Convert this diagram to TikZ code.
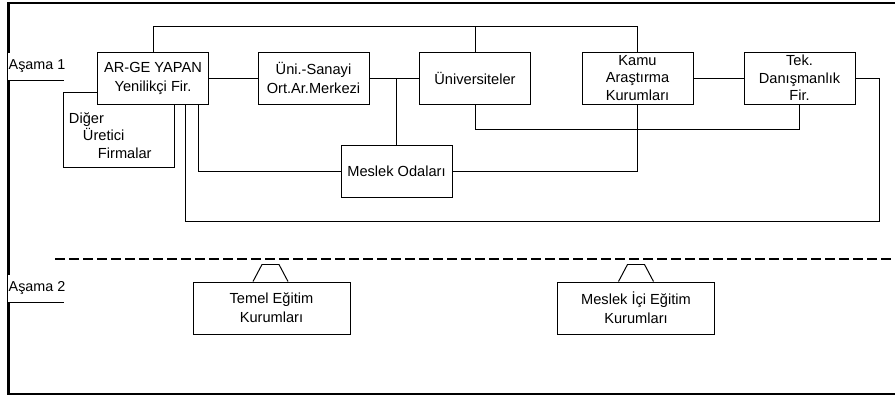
\documentclass[tikz,border=0pt]{standalone}
\usepackage{fontspec}
\setmainfont{Liberation Sans}
\tikzset{box/.style = {draw, fill=white, align=center, inner sep=0, minimum width=27.75mm, minimum height=13mm, font=\fontsize{10.4}{13.5}\selectfont}}
\tikzset{tight/.style = {font=\fontsize{10.4}{12.4}\selectfont}}
\tikzset{tabbox/.style = {box, minimum width=39.25mm}}
\tikzset{stage/.style = {fill=white, inner sep=0, minimum width=14.5mm, minimum height=6.75mm, font=\fontsize{10.2}{12}\selectfont}}

\begin{document}
\begin{tikzpicture}[x=0.25mm, y=-0.25mm, line width=0.7pt]
    \useasboundingbox (0,0) rectangle (895,396);
    \draw [line width=1.5pt] (8.5,3) rectangle (905,394);

    \node [stage] (asama1) at (37,66.5) {Aşama 1};
    \draw (asama1.south west) -- ([xshift=-0.5mm]asama1.south east);
    \node [stage] (asama2) at (37,288.5) {Aşama 2};
    \draw (asama2.south west) -- ([xshift=-0.5mm]asama2.south east);

    \node [box, tight, align=left, text width=25mm, inner xsep=0.5mm, text height=5.75mm, minimum height=18.75mm] (diger) at (119,129.5) {Diğer\\\hspace*{3.5mm}Üretici\\\hspace*{7.25mm}Firmalar};
    \node [box] (arge) at (153,78) {AR-GE YAPAN\\Yenilikçi Fir.};
    \node [box] (unisanayi) at (313.5,78) {Üni.-Sanayi\\Ort.Ar.Merkezi};
    \node [box] (univ) at (475,78) {Üniversiteler};
    \node [box, tight] (kamu) at (637.5,78) {Kamu\\Araştırma\\Kurumları};
    \node [box, tight] (tek) at (799.5,78) {Tek.\\Danışmanlık\\Fir.};
    \node [box] (meslek) at (396.5,171.5) {Meslek Odaları};

    \draw (arge.north) -- ++(0,-25) coordinate (topline) -| (kamu.north);
    \draw (univ.north) -- (univ.north |- topline);
    \draw (arge) -- (unisanayi);
    \draw (unisanayi) -- (univ);
    \draw (meslek.north) -- (meslek.north |- unisanayi.east);
    \draw (kamu) -- (tek);
    \draw (univ.south) -- ++(0,25) -| (tek.south);
    \draw (kamu.south) |- (meslek.east);
    \draw ([xshift=11.25mm]arge.south) |- (meslek.west);
    \coordinate (loop) at (879,221);
    \draw (tek.east) -| (loop) -| ([xshift=8mm]arge.south);

    \draw [line width=1.9pt, dash pattern=on 2.5mm off 1mm] (55,259) -- (895,259);

    \node [tabbox] (temel) at (271.5,308) {Temel Eğitim\\Kurumları};
    \coordinate (temeltab) at ([xshift=-4.625mm]temel.north);
    \draw [white, line width=1.2pt] (temeltab) -- ++(35,0);
    \draw (temeltab) -- ++(9,-17) -- ++(17,0) -- ++(9,17);

    \node [tabbox] (meslekici) at (636,308) {Meslek İçi Eğitim\\Kurumları};
    \coordinate (meslektab) at ([xshift=-4.375mm]meslekici.north);
    \draw [white, line width=1.2pt] (meslektab) -- ++(35,0);
    \draw (meslektab) -- ++(9,-17) -- ++(17,0) -- ++(9,17);
\end{tikzpicture}
\end{document}
